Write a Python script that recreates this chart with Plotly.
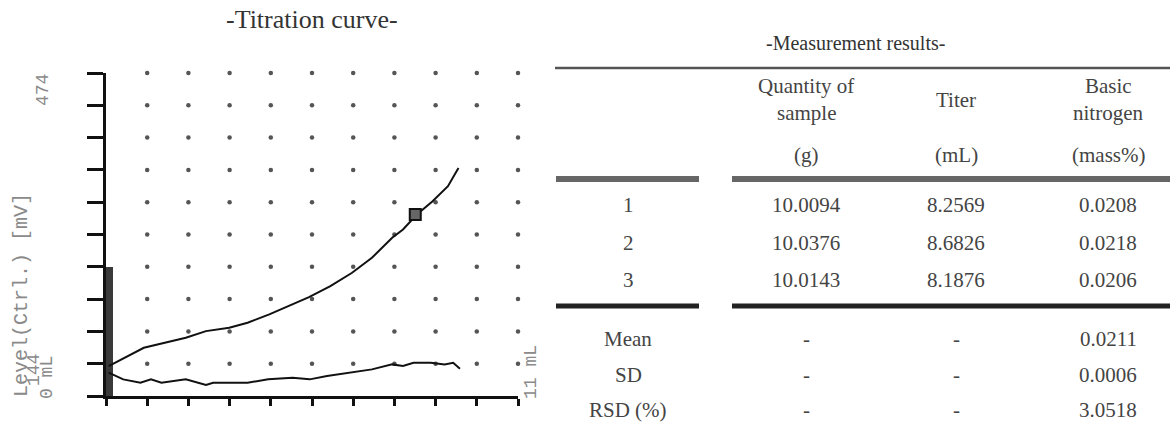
import plotly.graph_objects as go

W, H = 1170, 432

# ---------------- data ----------------
# titration curve (volume mL vs potential mV)
vol_upper = [0.07, 1.01, 2.13, 2.67, 3.29, 3.78, 4.36, 4.98, 5.42, 5.99, 6.57, 7.10, 7.64, 7.93, 8.30, 8.72, 9.13, 9.41]
mv_upper = [174.6, 193.3, 203.5, 210.3, 213.7, 218.8, 227.4, 237.6, 245.0, 256.3, 269.9, 285.2, 305.6, 314.1, 329.4, 343.0, 358.3, 377.0]
vol_lower = [0.07, 0.46, 0.92, 1.20, 1.48, 2.13, 2.67, 2.86, 3.78, 4.33, 4.98, 5.44, 5.90, 6.57, 7.10, 7.64, 7.93, 8.21, 8.67, 9.04, 9.27, 9.45]
mv_lower = [167.8, 161.0, 157.6, 161.0, 157.6, 161.0, 155.2, 157.6, 157.6, 161.0, 162.7, 161.0, 164.4, 167.8, 171.2, 176.3, 174.6, 178.0, 178.0, 176.3, 178.0, 171.9]
endpoint_vol = [8.2569]
endpoint_mv = [329.4]
bar_vol = [0.09]
bar_mv = [276]

x_min, x_max = 0, 11
y_min, y_max = 144, 474
n_div = 10

# table
col_headers = [["Quantity of", "sample", "(g)"], ["Titer", "", "(mL)"], ["Basic", "nitrogen", "(mass%)"]]
row_labels = ["1", "2", "3"]
quantity = ["10.0094", "10.0376", "10.0143"]
titer = ["8.2569", "8.6826", "8.1876"]
nitrogen = ["0.0208", "0.0218", "0.0206"]
stat_labels = ["Mean", "SD", "RSD (%)"]
stat_quantity = ["-", "-", "-"]
stat_titer = ["-", "-", "-"]
stat_nitrogen = ["0.0211", "0.0006", "3.0518"]

# ---------------- figure ----------------
def px(x):
    return x / W

def py(y):
    return 1 - y / H

x_ticks = [x_min + i * (x_max - x_min) / n_div for i in range(n_div + 1)]
y_ticks = [y_min + i * (y_max - y_min) / n_div for i in range(n_div + 1)]

fig = go.Figure()

# dotted grid
gx, gy = [], []
for xv in x_ticks[1:]:
    for yv in y_ticks[1:]:
        gx.append(xv)
        gy.append(yv)
fig.add_trace(go.Scatter(x=gx, y=gy, mode="markers", cliponaxis=False,
                         marker=dict(size=4.5, color="#555"), hoverinfo="skip"))

fig.add_trace(go.Bar(x=bar_vol, y=[v - y_min for v in bar_mv], base=y_min, width=0.17,
                     marker=dict(color="#3a3a3a", line=dict(width=0))))

fig.add_trace(go.Scatter(x=vol_upper, y=mv_upper, mode="lines",
                         line=dict(color="#111", width=2)))
fig.add_trace(go.Scatter(x=vol_lower, y=mv_lower, mode="lines",
                         line=dict(color="#111", width=2)))
fig.add_trace(go.Scatter(x=endpoint_vol, y=endpoint_mv, mode="markers",
                         marker=dict(symbol="square", size=11, color="#666",
                                     line=dict(color="#111", width=2))))

fig.update_xaxes(domain=[px(106), px(518)], range=[x_min, x_max], tickvals=x_ticks,
                 ticks="outside", ticklen=7, tickwidth=2.5, tickcolor="#111",
                 showticklabels=False, showline=True, linewidth=2.5, linecolor="#111",
                 showgrid=False, zeroline=False)
fig.update_yaxes(domain=[py(396), py(73)], range=[y_min, y_max], tickvals=y_ticks,
                 ticks="outside", ticklen=16, tickwidth=2.5, tickcolor="#111",
                 showticklabels=False, showline=True, linewidth=3, linecolor="#111",
                 showgrid=False, zeroline=False)

ann = []
mono = "Liberation Mono"
serif = "Liberation Serif"
gray = "#8a8a8a"
tcol = "#444"

def text(x, y, s, size, color, family, angle=0, xanchor="center"):
    ann.append(dict(x=px(x), y=py(y), xref="paper", yref="paper", text=s, showarrow=False,
                    textangle=angle, xanchor=xanchor, yanchor="middle",
                    font=dict(size=size, color=color, family=family)))

# chart labels
text(312, 19, "-Titration curve-", 26, "#333", serif)
text(43, 90, str(y_max), 18, gray, mono, -90)
text(21, 295, "Level(Ctrl.) [mV]", 20, gray, mono, -90)
text(34, 370, str(y_min), 18, gray, mono, -90)
text(47, 378, "%d mL" % x_min, 18, gray, mono, -90)
text(531, 372, "%d mL" % x_max, 18, gray, mono, -90)

# table
text(855, 43, "-Measurement results-", 20, "#333", serif)
col_x = [806, 956, 1108]
label_x = 628
head_y = [86, 113, 155]
fs = 21
for cx, hdr in zip(col_x, col_headers):
    if hdr[1] == "":
        text(cx, 100, hdr[0], fs, tcol, serif)
    else:
        text(cx, head_y[0], hdr[0], fs, tcol, serif)
        text(cx, head_y[1], hdr[1], fs, tcol, serif)
    text(cx, head_y[2], hdr[2], fs, tcol, serif)

row_y = [205, 243, 280]
for i, yy in enumerate(row_y):
    text(label_x, yy, row_labels[i], fs, tcol, serif)
    text(col_x[0], yy, quantity[i], fs, tcol, serif)
    text(col_x[1], yy, titer[i], fs, tcol, serif)
    text(col_x[2], yy, nitrogen[i], fs, tcol, serif)

stat_y = [339, 375, 410]
for i, yy in enumerate(stat_y):
    text(label_x, yy, stat_labels[i], fs, tcol, serif)
    text(col_x[0], yy, stat_quantity[i], fs, tcol, serif)
    text(col_x[1], yy, stat_titer[i], fs, tcol, serif)
    text(col_x[2], yy, stat_nitrogen[i], fs, tcol, serif)

shapes = []
def hline(x0, x1, y, w, color):
    shapes.append(dict(type="line", xref="paper", yref="paper", x0=px(x0), x1=px(x1),
                       y0=py(y), y1=py(y), line=dict(color=color, width=w)))

hline(555, 1170, 68, 2.5, "#555")
hline(556, 699, 179, 6, "#666")
hline(732, 1170, 179, 6, "#666")
hline(556, 699, 306, 5, "#222")
hline(732, 1170, 306, 5, "#222")

fig.update_layout(width=W, height=H, margin=dict(l=0, r=0, t=0, b=0),
                  paper_bgcolor="white", plot_bgcolor="white", showlegend=False,
                  annotations=ann, shapes=shapes, bargap=0)

fig.write_html("out.html", config={"displayModeBar": False},
               post_script="document.body.style.margin='0';document.body.style.overflow='hidden';")
